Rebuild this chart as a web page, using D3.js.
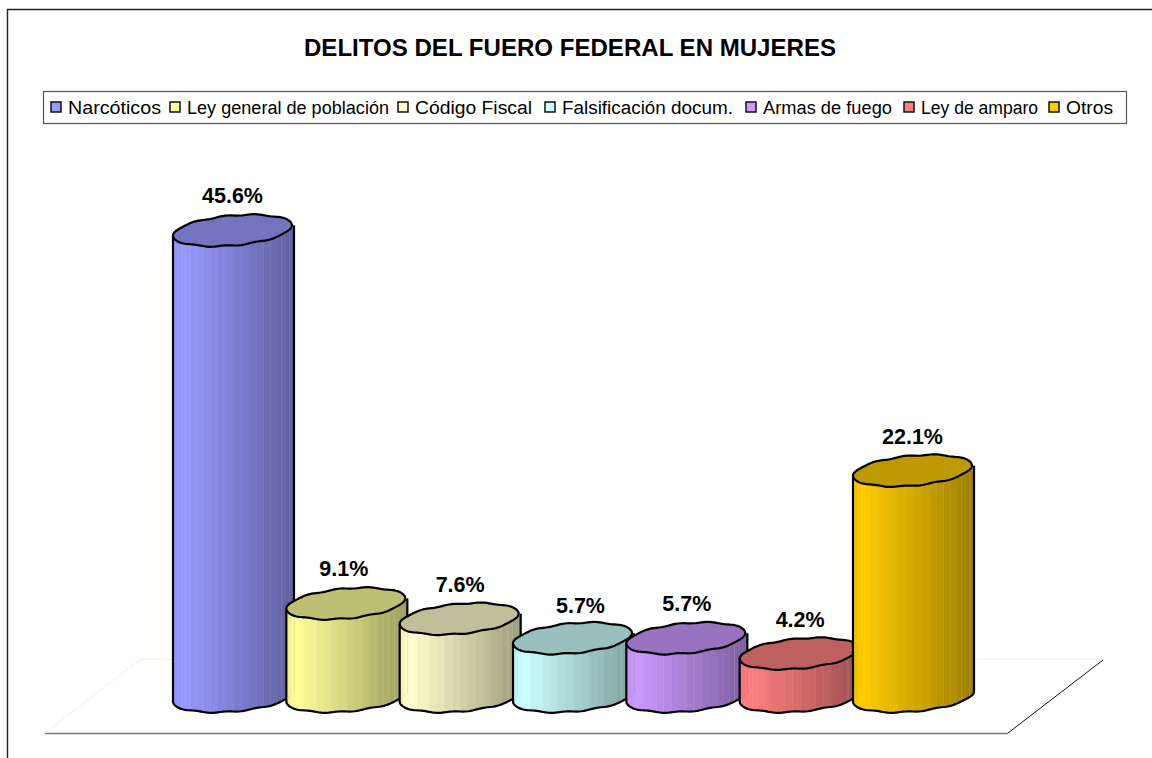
<!DOCTYPE html>
<html lang="es">
<head>
<meta charset="utf-8">
<title>Delitos del fuero federal en mujeres</title>
<script src="https://cdn.jsdelivr.net/npm/d3@7"></script>
<style>
  html, body { margin: 0; padding: 0; background: #fff; overflow: hidden; }
  svg { display: block; font-family: "Liberation Sans", Arial, sans-serif; }
</style>
</head>
<body>
<svg id="chart" width="1152" height="758"></svg>
<script>
// Data
const categories = ["Narcóticos", "Ley general de población", "Código Fiscal", "Falsificación docum.", "Armas de fuego", "Ley de amparo", "Otros"];
const percentages = [45.6, 9.1, 7.6, 5.7, 5.7, 4.2, 22.1];
const seriesColors = ["#9999FF", "#FFFF99", "#FFFFCC", "#CCFFFF", "#CC99FF", "#FF8080", "#FFCC00"];
const chartTitle = "DELITOS DEL FUERO FEDERAL EN MUJERES";

// Layout
const legendTextStart = [68, 187, 415, 562, 763, 921, 1066];
const legendTextWidth = [93, 202, 117, 171, 129, 117, 47];
const labelNudgeX = [-1, -3, 0, 7, 0, 0, -1];
const labelNudgeY = [1, 1, 1, 3, 1, 1, 1];

const svg = d3.select("#chart");
const x = d3.scalePoint().domain(categories).range([233.5, 913.5]);
const y = d3.scaleLinear().domain([0, 50]).range([696.5, 185.5]);

const RX = 60.5, RY = 15, SKEW = 5;

// Outer frame: only its top and left edges fall inside the page
svg.append("path")
  .attr("d", "M7.5,760V9.5H1160")
  .attr("fill", "none").attr("stroke", "#222").attr("stroke-width", 1.4);

// Floor of the 3D plot
svg.append("path").attr("d", "M140,659.5H176M972,659.5H1103")
  .attr("fill", "none").attr("stroke", "#eeeeee").attr("stroke-width", 1);
svg.append("path").attr("d", "M140,659.5L45,733")
  .attr("fill", "none").attr("stroke", "#e8e8e8").attr("stroke-width", 1).attr("stroke-dasharray", "2 1");
svg.append("path").attr("d", "M45,733.5H1008")
  .attr("fill", "none").attr("stroke", "#777").attr("stroke-width", 1.3);
svg.append("path").attr("d", "M1008,733L1103,660")
  .attr("fill", "none").attr("stroke", "#111").attr("stroke-width", 1);

// Title
svg.append("text")
  .attr("x", 570).attr("y", 55.5).attr("text-anchor", "middle")
  .attr("font-size", 24.5).attr("font-weight", 700)
  .attr("textLength", 532).attr("lengthAdjust", "spacingAndGlyphs")
  .text(chartTitle);

// Legend
svg.append("rect").attr("x", 43.5).attr("y", 91.5).attr("width", 1083).attr("height", 32)
  .attr("fill", "#fff").attr("stroke", "#555").attr("stroke-width", 1.2);
const legend = svg.append("g").selectAll("g").data(categories).join("g");
legend.append("rect")
  .attr("x", (d, i) => legendTextStart[i] - 17)
  .attr("y", 102).attr("width", 10).attr("height", 10)
  .attr("fill", (d, i) => seriesColors[i])
  .attr("stroke", "#111").attr("stroke-width", 1.5);
legend.append("text")
  .attr("x", (d, i) => legendTextStart[i]).attr("y", 113.5)
  .attr("font-size", 18)
  .attr("textLength", (d, i) => legendTextWidth[i]).attr("lengthAdjust", "spacingAndGlyphs")
  .text(d => d);

// Rim of a cylinder: a sheared ellipse whose outline ripples slightly
function rimPoint(cx, cy, t, rx) {
  const dx = rx * Math.cos(t);
  const ripple = 0.55 * Math.sin(dx / 4.8);
  return [cx + dx, cy + RY * Math.sin(t) - SKEW * dx / rx + ripple];
}
const line = d3.line();
const STRIPS = 24, ARC_STEPS = 72;

// Brightness across the curved side, brightest just inside the left edge
const shade = d3.scaleLinear().domain([0, 0.08, 1]).range([0.93, 1, 0.62]).clamp(true);
const tint = (color, k) => {
  const c = d3.rgb(color);
  return d3.rgb(c.r * k, c.g * k, c.b * k).formatHex();
};

categories.forEach((cat, i) => {
  const cx = x(cat), top = y(percentages[i]), base = y(0);
  const color = seriesColors[i];
  const g = svg.append("g");

  // Side facets, front half from the left tip to the right tip
  d3.range(STRIPS).forEach(s => {
    const t0 = Math.PI - Math.PI * s / STRIPS, t1 = Math.PI - Math.PI * (s + 1) / STRIPS;
    const a = rimPoint(cx, top, t0, RX), b = rimPoint(cx, top, t1, RX);
    const c = rimPoint(cx, base, t1, RX), e = rimPoint(cx, base, t0, RX);
    const u = (a[0] + b[0]) / 2;
    const f = (u - (cx - RX)) / (2 * RX);
    const k = shade(f) + (s % 2 ? 0.005 : -0.005);
    g.append("path").attr("d", line([a, b, c, e]) + "Z")
      .attr("fill", tint(color, k)).attr("stroke", tint(color, k)).attr("stroke-width", 0.5);
    // Thin pale seams between some facets
    if (s === 18 || s === 1) {
      g.append("path").attr("d", line([b, c]))
        .attr("stroke", "#fff").attr("stroke-opacity", 0.35).attr("stroke-width", 0.8);
    }
  });

  // Silhouette of the side
  const lower = d3.range(ARC_STEPS + 1).map(n => rimPoint(cx, base, Math.PI - Math.PI * n / ARC_STEPS, RX));
  const leftTop = rimPoint(cx, top, Math.PI, RX), rightTop = rimPoint(cx, top, 0, RX);
  g.append("path").attr("d", line([leftTop, ...lower, rightTop]))
    .attr("fill", "none").attr("stroke", "#000").attr("stroke-width", 2.2).attr("stroke-linejoin", "round");

  // Top face
  const rim = d3.range(ARC_STEPS * 2).map(n => rimPoint(cx - 1, top, Math.PI * n / ARC_STEPS, RX - 1));
  g.append("path").attr("d", line(rim) + "Z")
    .attr("fill", tint(color, 0.75)).attr("stroke", "#000").attr("stroke-width", 2.2).attr("stroke-linejoin", "round");
});

// Value labels above each cylinder
svg.append("g").selectAll("text").data(percentages).join("text")
  .attr("x", (d, i) => x(categories[i]) + labelNudgeX[i])
  .attr("y", (d, i) => y(d) - 28 + labelNudgeY[i])
  .attr("text-anchor", "middle")
  .attr("font-size", 21.5).attr("font-weight", 700)
  .text(d => d.toFixed(1) + "%");
</script>
</body>
</html>
